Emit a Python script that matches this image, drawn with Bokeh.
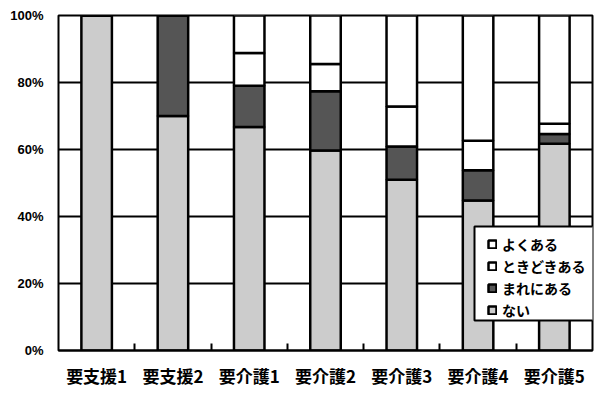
from bokeh.plotting import figure
from bokeh.models import (Range1d, FixedTicker, PrintfTickFormatter, Legend, LegendItem,
                          BoxAnnotation)
from bokeh.embed import file_html
from bokeh.resources import INLINE

categories = ["要支援1", "要支援2", "要介護1", "要介護2", "要介護3", "要介護4", "要介護5"]
nai = [100.0, 70.0, 66.7, 59.7, 51.0, 44.8, 61.7]          # ない
mare = [0.0, 30.0, 12.3, 17.7, 9.9, 9.0, 2.9]             # まれにある
tokidoki = [0.0, 0.0, 9.8, 8.1, 11.9, 8.8, 3.1]           # ときどきある
yoku = [0.0, 0.0, 11.2, 14.5, 27.2, 37.4, 32.3]           # よくある
series_names = ["ない", "まれにある", "ときどきある", "よくある"]
y_ticks = [0, 20, 40, 60, 80, 100]

xs = [i + 0.5 for i in range(len(categories))]
bounds = [i for i in range(1, len(categories))]

data = dict(x=xs, nai=nai, mare=mare, tokidoki=tokidoki, yoku=yoku)
keys = ["nai", "mare", "tokidoki", "yoku"]
colors = ["#cccccc", "#555555", "#ffffff", "#ffffff"]

p = figure(frame_width=534, frame_height=335, output_backend="svg", toolbar_location=None,
           x_range=Range1d(0, len(categories)), y_range=Range1d(0, 100))
p.min_border_left = 58
p.min_border_right = 9
p.min_border_top = 15
p.min_border_bottom = 39
p.border_fill_color = "white"

rs = p.vbar_stack(keys, x="x", width=0.4, source=data, fill_color=colors,
                  line_color="black", line_width=2.5)

p.outline_line_color = "black"
p.outline_line_width = 2
p.background_fill_color = "white"

# y axis
p.yaxis.ticker = FixedTicker(ticks=y_ticks)
p.yaxis.formatter = PrintfTickFormatter(format="%d%%")
p.yaxis.major_tick_out = 0
p.yaxis.major_tick_in = 0
p.yaxis.minor_tick_out = 0
p.yaxis.minor_tick_in = 0
p.yaxis.axis_line_color = None
p.yaxis.major_label_text_font = "Liberation Sans"
p.yaxis.major_label_text_font_style = "bold"
p.yaxis.major_label_text_font_size = "13px"
p.yaxis.major_label_text_color = "black"
p.yaxis.major_label_standoff = 15

# x axis
p.xaxis.ticker = FixedTicker(ticks=xs, minor_ticks=bounds)
p.xaxis.major_label_overrides = {x: c for x, c in zip(xs, categories)}
p.xaxis.major_tick_out = 0
p.xaxis.major_tick_in = 0
p.xaxis.minor_tick_out = 0
p.xaxis.minor_tick_in = 7
p.xaxis.minor_tick_line_color = "black"
p.xaxis.minor_tick_line_width = 2
p.xaxis.axis_line_color = "black"
p.xaxis.axis_line_width = 2
p.xaxis.major_label_text_font = "Noto Sans CJK JP"
p.xaxis.major_label_text_font_style = "bold"
p.xaxis.major_label_text_font_size = "17px"
p.xaxis.major_label_text_color = "black"
p.xaxis.major_label_standoff = 12

p.xgrid.grid_line_color = None
p.ygrid.ticker = FixedTicker(ticks=y_ticks)
p.ygrid.grid_line_color = "black"
p.ygrid.grid_line_width = 2
p.ygrid.grid_line_alpha = 1.0

# legend frame (extends past the right edge like the original)
legend_box = BoxAnnotation(left=416, right=560, bottom=30, top=124,
                           left_units="screen", right_units="screen",
                           bottom_units="screen", top_units="screen",
                           fill_color="white", fill_alpha=1.0,
                           line_color="black", line_width=2, line_alpha=1.0)
p.add_layout(legend_box)

items = [LegendItem(label=series_names[i], renderers=[rs[i]]) for i in [3, 2, 1, 0]]
legend = Legend(items=items, location=(429, 30), orientation="vertical",
                glyph_width=10, glyph_height=10, label_standoff=5,
                label_height=20, spacing=2, padding=4, margin=0,
                label_text_font="Noto Sans CJK JP", label_text_font_style="bold",
                label_text_font_size="14px", label_text_color="black",
                border_line_color=None, background_fill_alpha=0.0)
p.add_layout(legend, "center")

open("out.html", "w").write(file_html(p, INLINE))
